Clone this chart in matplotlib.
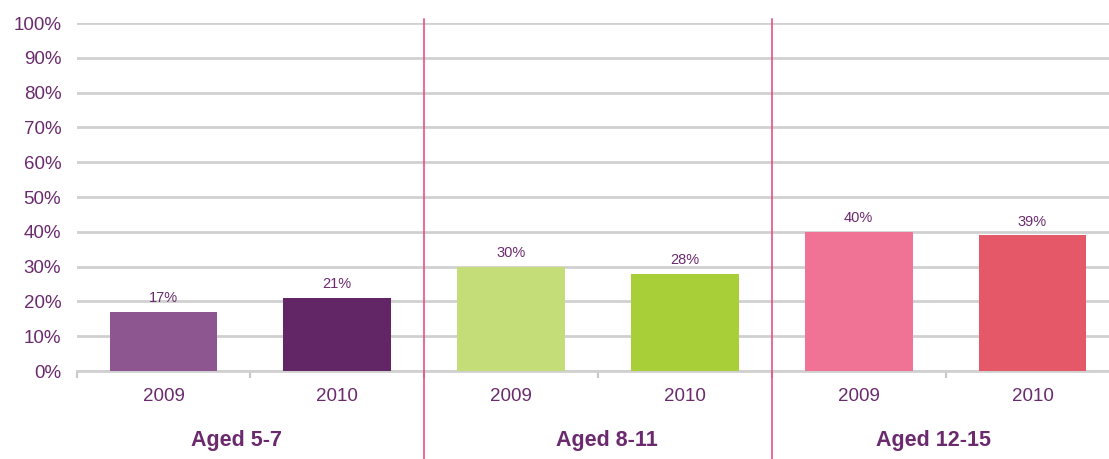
import matplotlib
matplotlib.use("Agg")
import matplotlib.pyplot as plt
import numpy as np

groups = ["Aged 5-7", "Aged 8-11", "Aged 12-15"]
years = ["2009", "2010"]
values = [17, 21, 30, 28, 40, 39]
labels = ["17%", "21%", "30%", "28%", "40%", "39%"]
colors = ["#8E5690", "#622566", "#C4DD79", "#A8CE38", "#F07294", "#E45867"]

txt = "#6B2A6E"
plt.rcParams['font.family'] = ['Liberation Sans', 'DejaVu Sans']

W, H = 1109, 459
fig = plt.figure(figsize=(W/100, H/100), dpi=100)
ax = fig.add_axes([76.6/W, (H-371)/H, 1 - 76.6/W, (371-23)/H])

x = np.arange(len(values))
ax.bar(x, values, width=0.62, color=colors, zorder=3)
for xi, v, lab in zip(x, values, labels):
    ax.annotate(lab, (xi, v), xytext=(0, 7), textcoords="offset points",
                ha="center", va="baseline", fontsize=10.5, color=txt)

ax.set_yticks(np.arange(0, 101, 10))
ax.set_yticklabels([f"{v}%" for v in range(0, 101, 10)], fontsize=13.5, color=txt)
ax.tick_params(axis='y', length=0, pad=11)
ax.set_xticks(x)
ax.set_xticklabels(years * 3, fontsize=13.5, color=txt)
ax.tick_params(axis='x', which='major', length=0, pad=12)
ax.set_xticks(np.arange(-0.5, 5, 1), minor=True)
ax.tick_params(axis='x', which='minor', length=5, width=1.5, color="#C8C8C8")
ax.set_ylim(0, 100)
ax.set_xlim(-0.5, (W - 76.6) / 173.8 - 0.5)

ax.yaxis.grid(True, color="#D0D0D0", linewidth=2, zorder=0)
ax.set_axisbelow(True)
for s in ["left", "right", "top"]:
    ax.spines[s].set_visible(False)
ax.spines["bottom"].set_color("#D0D0D0")
ax.spines["bottom"].set_linewidth(2)

tr = ax.get_xaxis_transform()
for b in [1.5, 3.5]:
    ax.plot([b, b], [-0.26, 1.012], transform=tr, color="#E8407E",
            linewidth=1.1, clip_on=False, zorder=5)

group_x = [0.42, 2.55, 4.43]
for gx, g in zip(group_x, groups):
    ax.text(gx, -(446-371)/348, g, transform=tr, ha="center", va="baseline",
            fontsize=15.5, fontweight="bold", color=txt)

ax.set_xlim(-0.5, (W - 76.6) / 173.8 - 0.5)
fig.savefig("out.png", dpi=100)
